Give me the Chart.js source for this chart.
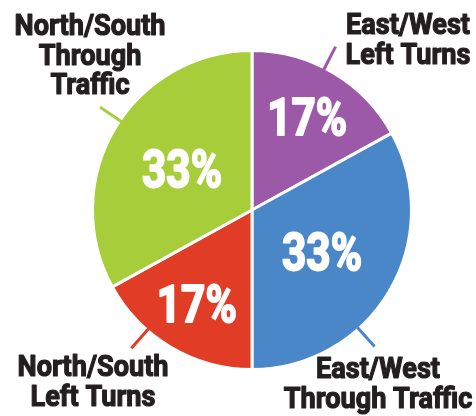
<!DOCTYPE html>
<html>
<head>
<meta charset="utf-8">
<script src="https://cdn.jsdelivr.net/npm/chart.js@4.4.1/dist/chart.umd.min.js"></script>
<style>
  html, body { margin: 0; padding: 0; background: #fff; }
  #wrap { width: 476px; height: 416px; }
</style>
</head>
<body>
<div id="wrap"><canvas id="chart" width="476" height="416"></canvas></div>
<script>
// Slices clockwise from 12 o'clock
const categories = [
  ['East/West', 'Left Turns'],
  ['East/West', 'Through Traffic'],
  ['North/South', 'Left Turns'],
  ['North/South', 'Through', 'Traffic']
];
const shares = [17, 33, 17, 33];
const sliceColors = ['#9b59a7', '#4a87c8', '#e13d26', '#a7cd3a'];

const FONT = 'Roboto, "Noto Sans", sans-serif';

// Where each outside label sits (centre x, first baseline y) and which way its leader leans
const labelLayout = [
  { x: 408, y: 34, lead: -3.5 },
  { x: 378, y: 378, lead: 17.5 },
  { x: 93, y: 376, lead: 10.5 },
  { x: 90, y: 35, lead: 3.5 }
];

// draw text squeezed horizontally, centred on x (no condensed face is installed)
function condensedText(ctx, text, x, y, sx, weight) {
  const w = ctx.measureText(text).width;
  ctx.save();
  ctx.translate(x - w * sx / 2, y);
  ctx.scale(sx, 1);
  ctx.textAlign = 'left';
  ctx.fillText(text, 0, 0);
  // a thin outline in the same colour thickens the strokes a little
  ctx.strokeStyle = ctx.fillStyle;
  ctx.lineWidth = weight;
  ctx.lineJoin = 'round';
  ctx.strokeText(text, 0, 0);
  ctx.restore();
}

const pieLabels = {
  id: 'pieLabels',
  afterDraw(chart) {
    const ctx = chart.ctx;
    const meta = chart.getDatasetMeta(0);
    ctx.save();
    ctx.textBaseline = 'alphabetic';

    ctx.font = 'bold 52px ' + FONT;
    const pctScale = 80 / ctx.measureText('33%').width;
    ctx.font = 'bold 29.5px ' + FONT;
    const lblScale = 151 / ctx.measureText('North/South').width;

    meta.data.forEach((arc, i) => {
      const mid = (arc.startAngle + arc.endAngle) / 2;
      const r = arc.outerRadius;

      // leader line
      const la = mid + labelLayout[i].lead * Math.PI / 180;
      ctx.strokeStyle = sliceColors[i];
      ctx.lineWidth = 3;
      ctx.beginPath();
      ctx.moveTo(arc.x + Math.cos(la) * (r - 2), arc.y + Math.sin(la) * (r - 2));
      ctx.lineTo(arc.x + Math.cos(la) * (r + 24), arc.y + Math.sin(la) * (r + 24));
      ctx.stroke();

      // percentage inside the slice
      const f = shares[i] < 25 ? 0.68 : 0.51;
      const px = arc.x + Math.cos(mid) * r * f;
      const py = arc.y + Math.sin(mid) * r * f;
      ctx.fillStyle = '#ffffff';
      ctx.font = 'bold 52px ' + FONT;
      condensedText(ctx, shares[i] + '%', px, py + 18.5, pctScale, 2);

      // outside label
      ctx.fillStyle = '#231f20';
      ctx.font = 'bold 29.5px ' + FONT;
      categories[i].forEach((line, j) => {
        condensedText(ctx, line, labelLayout[i].x, labelLayout[i].y + j * 29.5, lblScale, 1.2);
      });
    });
    ctx.restore();
  }
};

new Chart(document.getElementById('chart'), {
  type: 'pie',
  data: {
    labels: categories.map(c => c.join(' ')),
    datasets: [{
      data: shares,
      backgroundColor: sliceColors,
      borderColor: '#ffffff',
      borderWidth: 3,
      hoverOffset: 0
    }]
  },
  options: {
    responsive: false,
    animation: false,
    layout: { padding: { left: 91, right: 63, top: 49, bottom: 45 } },
    plugins: {
      legend: { display: false },
      tooltip: { enabled: false }
    }
  },
  plugins: [pieLabels]
});
</script>
</body>
</html>
